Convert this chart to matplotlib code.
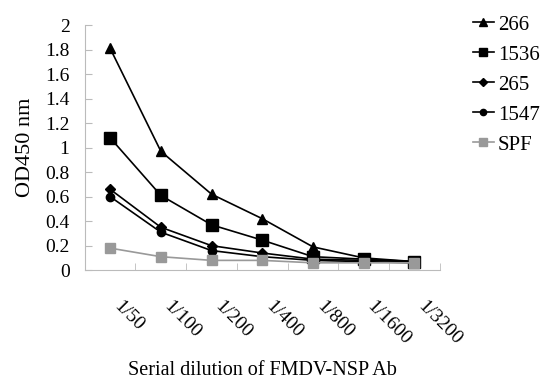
import matplotlib
matplotlib.use('Agg')
import numpy as np
import matplotlib.pyplot as plt

plt.rcParams['font.family'] = 'Liberation Serif'

# diluciones
dilutions = ['1/50', '1/100', '1/200', '1/400', '1/800', '1/1600', '1/3200']

s266 = [1.81, 0.97, 0.62, 0.42, 0.19, 0.10, 0.07]
s1536 = [1.08, 0.61, 0.37, 0.245, 0.11, 0.09, 0.07]
s265 = [0.66, 0.35, 0.20, 0.14, 0.09, 0.08, 0.07]
s1547 = [0.60, 0.31, 0.16, 0.11, 0.08, 0.07, 0.06]
spf = [0.18, 0.11, 0.08, 0.08, 0.06, 0.06, 0.06]

x = np.arange(len(dilutions))

fig = plt.figure(figsize=(5.47, 3.8), dpi=100)
ax = fig.add_axes([0.155, 0.289, 0.649, 0.645])

ax.plot(x, s266, '-^', color='black', lw=1.2, ms=7, label='266')
ax.plot(x, s1536, '-s', color='black', lw=1.2, ms=8, label='1536')
ax.plot(x, s265, '-D', color='black', lw=1.2, ms=5, label='265')
ax.plot(x, s1547, '-o', color='black', lw=1.2, ms=6, label='1547')
ax.plot(x, spf, '-s', color='#999999', lw=1.2, ms=7, label='SPF')

ax.set_xlim(-0.5, len(dilutions) - 0.5)
ax.set_ylim(0, 2)
ax.set_yticks(np.arange(0, 2.01, 0.2))
ax.set_yticklabels(['0', '0.2', '0.4', '0.6', '0.8', '1', '1.2', '1.4', '1.6', '1.8', '2'])

ax.set_xticks(x)
ax.set_xticklabels(dilutions, rotation=-45, ha='left', va='top', rotation_mode='default')
ax.set_xticks(np.arange(-0.5, len(dilutions), 1), minor=True)
ax.tick_params(axis='x', which='major', length=0, pad=20, labelsize=14)
ax.tick_params(axis='x', which='minor', length=5, color='#bbbbbb', direction='in')
ax.tick_params(axis='y', length=5, color='#bbbbbb', direction='in', labelsize=14, pad=11)

for s in ['top', 'right']:
    ax.spines[s].set_visible(False)
for s in ['left', 'bottom']:
    ax.spines[s].set_color('#bbbbbb')

ax.set_ylabel('OD450 nm', fontsize=16, labelpad=7)
ax.set_xlabel('Serial dilution of FMDV-NSP Ab', fontsize=14.5, labelpad=9)

leg = fig.legend(loc='upper left', bbox_to_anchor=(0.83, 1.01), frameon=False,
                 fontsize=15, handlelength=1.0, handletextpad=0.2,
                 labelspacing=0.5, markerscale=0.75)

plt.savefig('out.png', dpi=100)
